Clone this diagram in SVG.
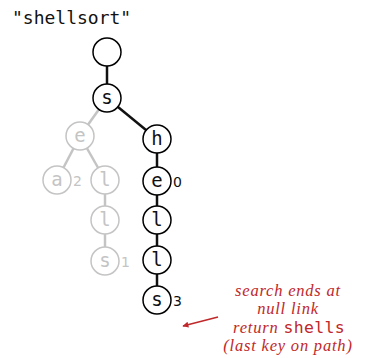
<svg xmlns="http://www.w3.org/2000/svg" width="374" height="358" viewBox="0 0 374 358">
<style>
.nb circle{fill:#fff;stroke:#000;stroke-width:1.5}
.ng circle{fill:#fff;stroke:#c4c4c4;stroke-width:1.5}
.nb text{fill:#111}
.ng text{fill:#c4c4c4}
.lt{font-family:"DejaVu Sans Mono",monospace;font-size:19px;text-anchor:middle}
.vl{font-family:"DejaVu Sans","Liberation Sans",sans-serif;font-size:14px}
.eb{stroke:#111;stroke-width:2.5}
.eg{stroke:#c4c4c4;stroke-width:2.5}
.note{font-family:"Liberation Serif",serif;font-style:italic;font-size:16.5px;letter-spacing:0.8px;fill:#c0282a;text-anchor:middle}
.mono{font-family:"DejaVu Sans Mono",monospace;font-style:normal;font-size:16.5px;letter-spacing:0.3px}
</style>
<defs>
<marker id="ah" viewBox="0 0 10 10" refX="9" refY="5" markerWidth="8" markerHeight="6" orient="auto" markerUnits="userSpaceOnUse">
<path d="M0,0 L10,5 L0,10 z" fill="#c0282a"/>
</marker>
</defs>
<text x="12" y="24" font-family="DejaVu Sans Mono,monospace" font-size="18" fill="#111">"shellsort"</text>
<g id="connectors">
<line class="eg" x1="107" y1="98" x2="80" y2="136"/>
<line class="eg" x1="80" y1="136" x2="57" y2="180"/>
<line class="eg" x1="80" y1="136" x2="105" y2="180"/>
<line class="eg" x1="105" y1="180" x2="105" y2="261"/>
<line class="eb" x1="107" y1="52" x2="107" y2="98"/>
<line class="eb" x1="107" y1="98" x2="157" y2="139"/>
<line class="eb" x1="157" y1="139" x2="157" y2="300"/>
</g>
<g id="n-root" class="nb"><circle cx="107" cy="52" r="14"/></g>
<g id="n-s" class="nb"><circle cx="107" cy="98" r="14"/><text class="lt" x="107" y="104">s</text></g>
<g id="n-e-gray" class="ng"><circle cx="80" cy="136" r="14"/><text class="lt" x="80" y="142">e</text></g>
<g id="n-h" class="nb"><circle cx="157" cy="139" r="14"/><text class="lt" x="157" y="145">h</text></g>
<g id="n-a" class="ng"><circle cx="57" cy="180" r="14"/><text class="lt" x="57" y="186">a</text><text class="vl" x="73" y="186">2</text></g>
<g id="n-l1-gray" class="ng"><circle cx="105" cy="180" r="14"/><text class="lt" x="105" y="186">l</text></g>
<g id="n-l2-gray" class="ng"><circle cx="105" cy="220" r="14"/><text class="lt" x="105" y="226">l</text></g>
<g id="n-s-gray" class="ng"><circle cx="105" cy="261" r="14"/><text class="lt" x="105" y="267">s</text><text class="vl" x="121" y="267">1</text></g>
<g id="n-e" class="nb"><circle cx="157" cy="181" r="14"/><text class="lt" x="157" y="187">e</text><text class="vl" x="173" y="187">0</text></g>
<g id="n-l1" class="nb"><circle cx="157" cy="220" r="14"/><text class="lt" x="157" y="226">l</text></g>
<g id="n-l2" class="nb"><circle cx="157" cy="260" r="14"/><text class="lt" x="157" y="266">l</text></g>
<g id="n-s2" class="nb"><circle cx="157" cy="300" r="14"/><text class="lt" x="157" y="306">s</text><text class="vl" x="173" y="306">3</text></g>
<g id="note">
<line x1="218" y1="317" x2="183" y2="326" stroke="#c0282a" stroke-width="1.5" marker-end="url(#ah)"/>
<text class="note" x="288" y="296">search ends at</text>
<text class="note" x="288" y="314.4">null link</text>
<text class="note" x="289" y="332.8">return <tspan class="mono">shells</tspan></text>
<text class="note" x="288" y="351.2">(last key on path)</text>
</g>
</svg>
